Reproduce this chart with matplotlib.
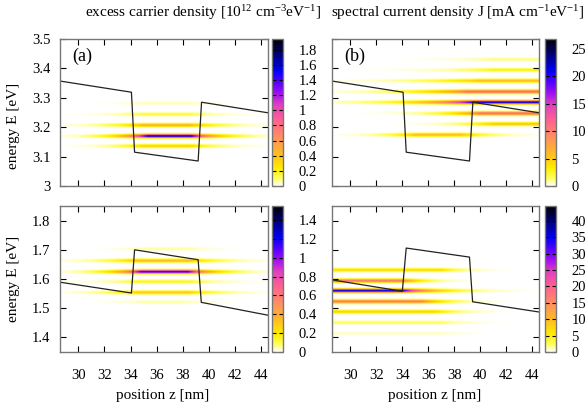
import numpy as np
import matplotlib
matplotlib.use("Agg")
import matplotlib.pyplot as plt
from matplotlib.colors import LinearSegmentedColormap

plt.rcParams['font.family'] = ['Liberation Serif', 'DejaVu Serif']
plt.rcParams['mathtext.fontset'] = 'custom'
plt.rcParams['mathtext.rm'] = 'Liberation Serif'
plt.rcParams['mathtext.it'] = 'Liberation Serif:italic'
plt.rcParams['font.size'] = 10.5

# axis ranges
z_range = (28.6, 44.5)
E_top = (3.0, 3.5)
E_bot = (1.35, 1.85)

# band-edge profiles (position z [nm], energy E [eV])
cb_z = [28.6, 34.06, 34.3, 39.16, 39.42, 44.5]
cb_E = [3.357, 3.319, 3.115, 3.085, 3.285, 3.249]
vb_z = [28.6, 34.06, 34.3, 39.16, 39.4, 44.5]
vb_E = [1.589, 1.552, 1.700, 1.666, 1.520, 1.476]
vbj_z = [28.6, 34.0, 34.3, 39.16, 39.4, 44.5]
vbj_E = [1.597, 1.558, 1.706, 1.675, 1.522, 1.487]

# (a) top: excess electron density bands
a1_E = [3.282, 3.244, 3.207, 3.170, 3.136]
a1_amp = [0.05, 0.15, 0.50, 1.65, 0.35]
a1_zl = [35.0, 35.0, 35.0, 35.3, 35.0]
a1_zr = [38.5, 38.5, 38.5, 38.6, 38.5]
a1_tail = [2.0, 2.0, 2.0, 1.6, 1.8]

# (b) top: spectral current density bands
b1_E = [3.431, 3.395, 3.358, 3.321, 3.285, 3.247, 3.211, 3.174]
b1_amp = [1.2, 3.0, 6.0, 12.0, 22.0, 12.0, 5.5, 6.0]
b1_zl = [41.0, 41.0, 40.0, 39.0, 39.5, 40.0, 41.0, 35.0]
b1_zr = [50.0, 50.0, 50.0, 50.0, 50.0, 50.0, 50.0, 38.5]
b1_tail = [3.0, 3.0, 3.5, 3.0, 3.0, 2.0, 2.0, 1.8]

# (a) bottom: excess hole density bands
a2_E = [1.703, 1.663, 1.625, 1.591, 1.554, 1.521]
a2_amp = [0.05, 0.35, 1.20, 0.15, 0.30, 0.05]
a2_zl = [35.0, 34.5, 34.8, 34.5, 34.5, 35.0]
a2_zr = [38.5, 38.5, 38.4, 38.5, 38.5, 38.0]
a2_tail = [2.0, 2.0, 1.6, 2.0, 2.0, 2.0]

# (b) bottom: spectral current density bands
b2_E = [1.631, 1.594, 1.560, 1.523, 1.488, 1.451, 1.414]
b2_amp = [7.0, 18.0, 36.0, 18.0, 8.0, 2.5, 1.0]
b2_zl = [20.0, 20.0, 20.0, 20.0, 20.0, 20.0, 20.0]
b2_zr = [37.0, 34.0, 34.0, 35.5, 36.5, 37.0, 37.0]
b2_tail = [1.5, 1.3, 2.0, 1.5, 1.6, 2.0, 2.0]

cbar_max = [1.94, 26.8, 1.55, 44.5]
cbar_ticks = [np.arange(0, 1.81, 0.2), np.arange(0, 26, 5),
              np.arange(0, 1.41, 0.2), np.arange(0, 41, 5)]
cbar_labels = [['0', '0.2', '0.4', '0.6', '0.8', '1', '1.2', '1.4', '1.6', '1.8'],
               ['0', '5', '10', '15', '20', '25'],
               ['0', '0.2', '0.4', '0.6', '0.8', '1', '1.2', '1.4'],
               ['0', '5', '10', '15', '20', '25', '30', '35', '40']]

pal = LinearSegmentedColormap.from_list('pal', [
    (0.0, '#ffffff'), (0.05, '#ffff60'), (0.12, '#ffec00'), (0.22, '#ffbb22'),
    (0.33, '#ff9060'), (0.45, '#ff6090'), (0.55, '#e040c0'), (0.63, '#a010f0'),
    (0.71, '#5000ff'), (0.79, '#0000f0'), (0.89, '#000080'), (1.0, '#000000')])


def band_image(z, E, bE, amp, zl, zr, tail, width=0.0058):
    Z, EE = np.meshgrid(z, E)
    img = np.zeros_like(Z)
    for e0, a, l, r, t in zip(bE, amp, zl, zr, tail):
        out = np.maximum(0, l - Z) + np.maximum(0, Z - r)
        img += a * np.exp(-out / t) * np.exp(-((EE - e0) / width) ** 2)
    return img


W, H = 586, 409
fig = plt.figure(figsize=(W / 100, H / 100), dpi=100)


def px_axes(x0, y0, x1, y1):
    return fig.add_axes([x0 / W, 1 - y1 / H, (x1 - x0) / W, (y1 - y0) / H])


panels = [
    (60, 39, 268, 186, 272, E_top, (a1_E, a1_amp, a1_zl, a1_zr, a1_tail), (cb_z, cb_E), '(a)'),
    (332, 39, 539, 186, 545, E_top, (b1_E, b1_amp, b1_zl, b1_zr, b1_tail), (cb_z, cb_E), '(b)'),
    (60, 206, 268, 352, 272, E_bot, (a2_E, a2_amp, a2_zl, a2_zr, a2_tail), (vb_z, vb_E), None),
    (332, 206, 539, 352, 545, E_bot, (b2_E, b2_amp, b2_zl, b2_zr, b2_tail), (vbj_z, vbj_E), None),
]

z = np.linspace(z_range[0], z_range[1], 600)
for i, (x0, y0, x1, y1, cx, ylim, bands, prof, tag) in enumerate(panels):
    ax = px_axes(x0, y0, x1, y1)
    E = np.linspace(ylim[0], ylim[1], 700)
    img = band_image(z, E, *bands)
    im = ax.imshow(img, origin='lower', extent=[z[0], z[-1], E[0], E[-1]],
                   aspect='auto', cmap=pal, vmin=0, vmax=cbar_max[i],
                   interpolation='bilinear')
    ax.plot(prof[0], prof[1], color='#222222', lw=0.9)
    ax.set_xlim(*z_range)
    ax.set_ylim(*ylim)
    ax.set_xticks(np.arange(30, 45, 2))
    if ylim == E_top:
        ax.set_yticks([3.0, 3.1, 3.2, 3.3, 3.4, 3.5])
        ax.set_yticklabels(['3', '3.1', '3.2', '3.3', '3.4', '3.5'])
    else:
        ax.set_yticks([1.4, 1.5, 1.6, 1.7, 1.8])
    ax.tick_params(direction='in', top=True, right=True, length=4, width=0.8,
                   colors='black', labelsize=10.5, pad=7)
    ax.tick_params(axis='x', pad=12)
    if i % 2 == 1:
        ax.tick_params(labelleft=False)
    if i < 2:
        ax.tick_params(labelbottom=False)
    for s in ax.spines.values():
        s.set_color('#777777')
        s.set_linewidth(1.0)
    if tag:
        ax.text(0.06, 0.88, tag, transform=ax.transAxes, fontsize=13,
                ha='left', va='center')

    cax = px_axes(cx, y0, cx + 11, y1)
    cb = fig.colorbar(im, cax=cax)
    cb.set_ticks(cbar_ticks[i])
    cb.set_ticklabels(cbar_labels[i])
    cb.outline.set_edgecolor('#777777')
    cb.outline.set_linewidth(1.0)
    cax.tick_params(direction='in', left=True, right=True, length=3, width=0.8,
                    labelsize=10.5, pad=11)

fig.text(203 / W, 1 - 13 / H,
         'excess carrier density [10$^{12}$ cm$^{-3}$eV$^{-1}$]',
         ha='center', va='center', fontsize=11)
fig.text(458 / W, 1 - 13 / H,
         'spectral current density J [mA cm$^{-1}$eV$^{-1}$]',
         ha='center', va='center', fontsize=11)
fig.text(14 / W, 1 - 126 / H, 'energy E [eV]', rotation=90,
         ha='center', va='center', fontsize=11)
fig.text(14 / W, 1 - 279 / H, 'energy E [eV]', rotation=90,
         ha='center', va='center', fontsize=11)
fig.text(163 / W, 1 - 396 / H, 'position z [nm]', ha='center', va='center', fontsize=11)
fig.text(435 / W, 1 - 396 / H, 'position z [nm]', ha='center', va='center', fontsize=11)

fig.savefig('out.png', dpi=100)
